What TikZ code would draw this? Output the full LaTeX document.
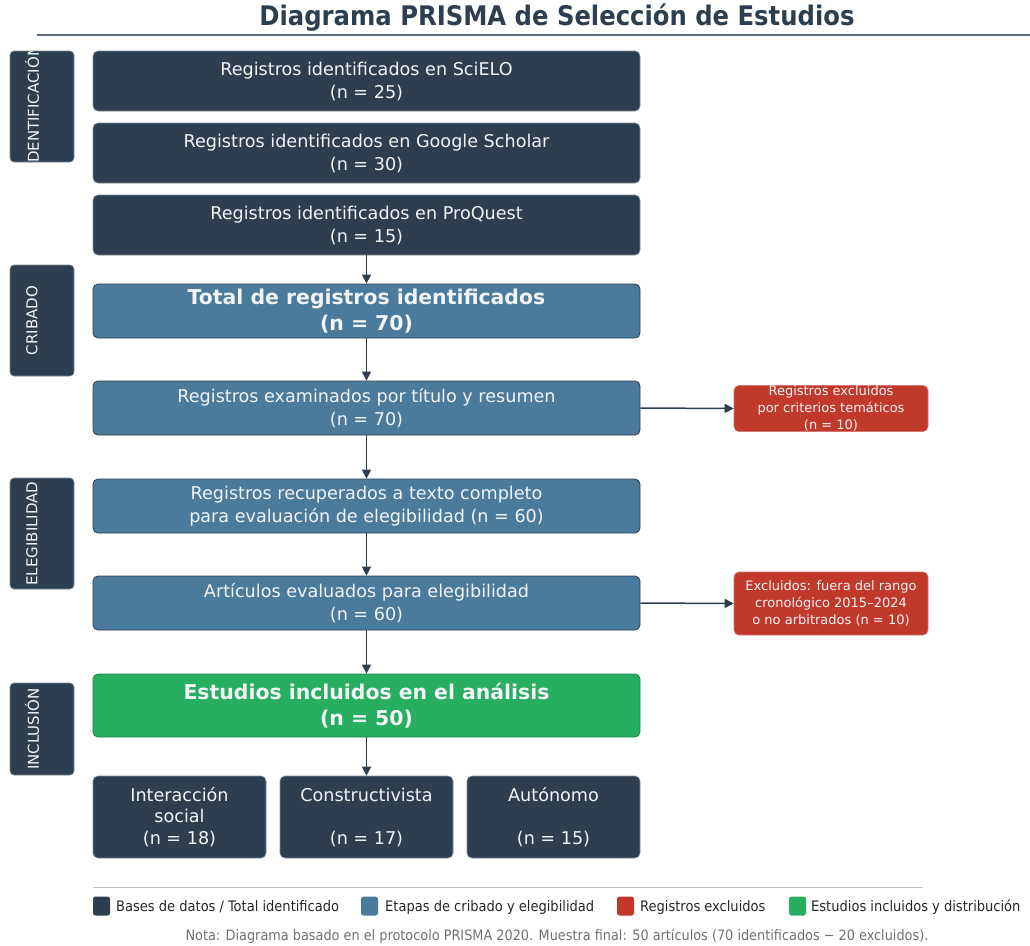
\documentclass[tikz,border=0pt]{standalone}
\usepackage{fontspec}
\setmainfont{DejaVu Sans}
\newfontfamily\condfont{DejaVu Sans Condensed}
\usetikzlibrary{arrows.meta}
\definecolor{cdark}{HTML}{2C3E50}
\definecolor{cblue}{HTML}{4A7B9D}
\definecolor{cred}{HTML}{C0392B}
\definecolor{cgreen}{HTML}{27AE60}
\definecolor{cgreenb}{HTML}{1E8449}
\definecolor{ctxt}{HTML}{F2F4F5}
\definecolor{cline}{HTML}{5D6D7E}
\definecolor{cnote}{HTML}{707070}
\tikzset{
  base/.style={rounded corners=5pt, align=center, inner sep=0pt, text=ctxt},
  darkbox/.style={base, fill=cdark, draw=cdark!60!white, line width=0.6pt,
    font=\fontsize{17.6}{23}\selectfont, minimum width=547pt, minimum height=60pt},
  bluebox/.style={base, fill=cblue, draw=cdark, line width=0.8pt,
    font=\fontsize{17.6}{23}\selectfont, minimum width=547pt, minimum height=54pt},
  totbox/.style={bluebox, font=\fontsize{20.4}{26}\selectfont\bfseries},
  greenbox/.style={base, fill=cgreen, draw=cgreenb, line width=0.8pt,
    font=\fontsize{20.4}{26}\selectfont\bfseries, minimum width=547pt, minimum height=63pt},
  catbox/.style={base, fill=cdark, draw=cdark!60!white, line width=0.6pt,
    font=\fontsize{17.6}{21.5}\selectfont, minimum width=173pt, minimum height=82pt},
  redbox/.style={base, fill=cred, draw=cred!70!white, line width=0.6pt,
    font=\fontsize{13}{17.3}\selectfont, minimum width=194pt},
  stagebox/.style={rounded corners=4pt, fill=cdark, draw=cdark!60!white, line width=0.6pt,
    minimum width=64pt, inner sep=0pt},
  stagetext/.style={text=ctxt, font=\fontsize{15}{17}\selectfont, rotate=90, inner sep=0pt},
  arr/.style={draw=cdark, line width=1.5pt, -{Triangle[length=9pt,width=9pt]}},
  legsq/.style={rounded corners=2.5pt, minimum width=17pt, minimum height=19pt, inner sep=0pt},
  legtxt/.style={anchor=west, inner sep=0pt, font=\condfont\fontsize{14.5}{16}\selectfont, text=black!85},
}
\begin{document}
\begin{tikzpicture}[x=1pt,y=-1pt]
\useasboundingbox (0,0) rectangle (1030,945);
% title
\node[font=\condfont\bfseries\fontsize{27}{30}\selectfont, text=cdark] (title) at (557,18) {Diagrama PRISMA de Selección de Estudios};
\coordinate (tl1) at (37,34.5);
\coordinate (tl2) at (1030,34.5);
\draw[cline, line width=2pt] (tl1) -- (tl2);

% stage labels
\node[stagebox, minimum height=111pt] (s1) at (42,106.5) {};
\node[stagebox, minimum height=111pt] (s2) at (42,320.5) {};
\node[stagebox, minimum height=111pt] (s3) at (42,533.5) {};
\node[stagebox, minimum height=92pt] (s4) at (42,729) {};
\begin{scope}
\clip (10,51) rectangle (74,162);
\node[stagetext] (t1) at (32,106.5) {IDENTIFICACIÓN};
\end{scope}
\node[stagetext] (t2) at (32,320.5) {CRIBADO};
\node[stagetext] (t3) at (32,533.5) {ELEGIBILIDAD};
\node[stagetext] (t4) at (32,729) {INCLUSIÓN};

% main boxes
\node[darkbox] (b1) at (366.5,81) {Registros identificados en SciELO\\(n = 25)};
\node[darkbox] (b2) at (366.5,153) {Registros identificados en Google Scholar\\(n = 30)};
\node[darkbox] (b3) at (366.5,225) {Registros identificados en ProQuest\\(n = 15)};
\node[totbox] (b4) at (366.5,311) {Total de registros identificados\\(n = 70)};
\node[bluebox] (b5) at (366.5,408) {Registros examinados por título y resumen\\(n = 70)};
\node[bluebox] (b6) at (366.5,506) {Registros recuperados a texto completo\\para evaluación de elegibilidad (n = 60)};
\node[bluebox] (b7) at (366.5,603) {Artículos evaluados para elegibilidad\\(n = 60)};
\node[greenbox] (b8) at (366.5,705.5) {Estudios incluidos en el análisis\\(n = 50)};
\node[catbox] (c1) at (179.5,817) {Interacción\\social\\(n = 18)};
\node[catbox] (c2) at (366.5,817) {Constructivista\\\strut\\(n = 17)};
\node[catbox] (c3) at (553.5,817) {Autónomo\\\strut\\(n = 15)};

% excluded
\node[redbox, minimum height=45pt] (r1) at (831,408.5) {Registros excluidos\\por criterios temáticos\\(n = 10)};
\node[redbox, minimum height=63pt] (r2) at (831,603.5) {Excluidos: fuera del rango\\cronológico 2015–2024\\o no arbitrados (n = 10)};

% arrows
\draw[arr] (b3.south) -- (b4.north);
\draw[arr] (b4.south) -- (b5.north);
\draw[arr] (b5.south) -- (b6.north);
\draw[arr] (b6.south) -- (b7.north);
\draw[arr] (b7.south) -- (b8.north);
\draw[arr] (b8.south) -- (c2.north);
\draw[arr] (b5.east) -- (r1.west);
\draw[arr] (b7.east) -- (r2.west);

% legend
\coordinate (lg1) at (93,887);
\coordinate (lg2) at (923,887);
\draw[black!25, line width=1pt] (lg1) -- (lg2);
\node[legsq, fill=cdark] (q1) at (101.5,906) {};
\node[legtxt] (l1) at (116,907) {Bases de datos / Total identificado};
\node[legsq, fill=cblue] (q2) at (369.5,906) {};
\node[legtxt] (l2) at (385,907) {Etapas de cribado y elegibilidad};
\node[legsq, fill=cred] (q3) at (625.5,906) {};
\node[legtxt] (l3) at (640,907) {Registros excluidos};
\node[legsq, fill=cgreen] (q4) at (797.5,906) {};
\node[legtxt] (l4) at (811,907) {Estudios incluidos y distribución};
\node[font=\condfont\fontsize{14.3}{16}\selectfont, text=cnote] (note) at (557,936) {Nota: Diagrama basado en el protocolo PRISMA 2020. Muestra final: 50 artículos (70 identificados − 20 excluidos).};
\end{tikzpicture}
\end{document}
